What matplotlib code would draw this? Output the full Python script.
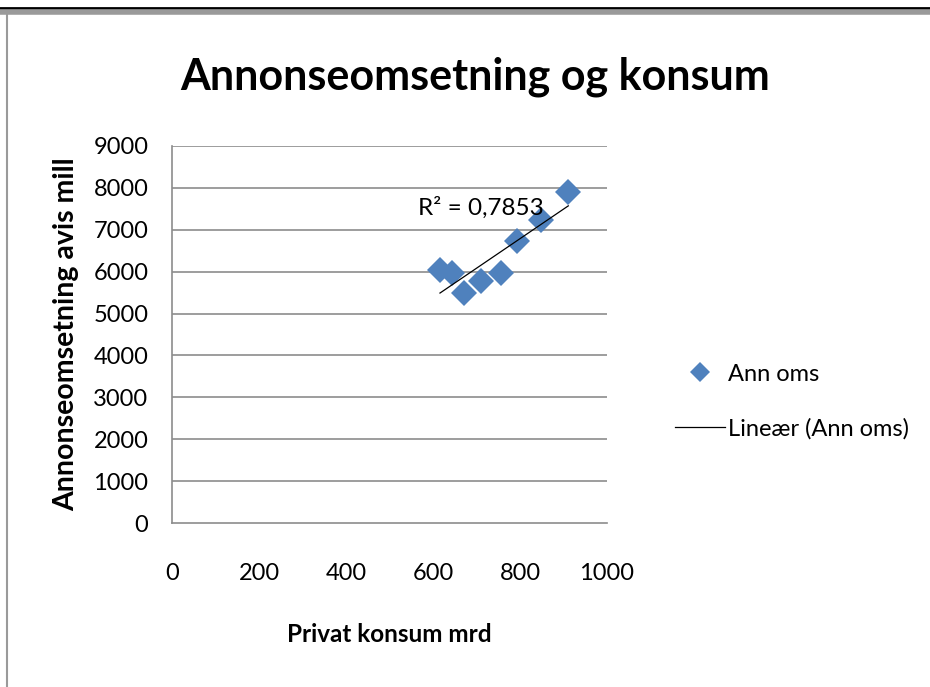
import matplotlib.pyplot as plt
import numpy as np
from matplotlib.lines import Line2D

# privat konsum (mrd) and annonseomsetning avis (mill)
konsum = [616, 643, 671, 710, 756, 794, 848, 911]
ann_oms = [6040, 5960, 5500, 5785, 5975, 6730, 7235, 7895]
r2_text = "R² = 0,7853"

x_ticks = [0, 200, 400, 600, 800, 1000]
y_ticks = [0, 1000, 2000, 3000, 4000, 5000, 6000, 7000, 8000, 9000]

plt.rcParams['font.family'] = ['Lato', 'DejaVu Sans']

fig = plt.figure(figsize=(9.3, 6.87), dpi=100)
ax = fig.add_axes([0.185, 0.2387, 0.4677, 0.5488])

blue = '#4F81BD'
ax.plot(konsum, ann_oms, 'D', color=blue, markersize=13, markeredgewidth=0,
        zorder=3)

# linear trendline
a, b = np.polyfit(konsum, ann_oms, 1)
xs = np.array([min(konsum), max(konsum)])
ax.plot(xs, a * xs + b, color='black', lw=0.9, zorder=4)
ax.text(855, 7520, r2_text, fontsize=17.5, ha='right', va='center', zorder=5)

ax.set_xlim(0, 1000)
ax.set_ylim(0, 9000)
ax.set_xticks(x_ticks)
ax.set_yticks(y_ticks)
ax.tick_params(axis='x', length=0, pad=29, labelsize=17)
ax.tick_params(axis='y', length=0, pad=17, labelsize=17)

for y in y_ticks[1:]:
    ax.axhline(y, color='#8c8c8c', lw=1.2, zorder=1)
for side in ['top', 'right']:
    ax.spines[side].set_visible(False)
ax.spines['left'].set_color('#8c8c8c')
ax.spines['bottom'].set_color('#8c8c8c')
ax.spines['left'].set_linewidth(1.2)
ax.spines['bottom'].set_linewidth(1.2)

ax.set_xlabel('Privat konsum mrd', fontsize=17.5, fontweight='bold', labelpad=28)
ax.set_ylabel('Annonseomsetning avis mill', fontsize=20.5, fontweight='bold',
              labelpad=10)
fig.text(0.511, 0.888, 'Annonseomsetning og konsum', fontsize=31,
         fontweight='bold', ha='center', va='center')

handles = [Line2D([], [], marker='D', color=blue, ls='none', markersize=10,
                  markeredgewidth=0),
           Line2D([], [], color='black', lw=0.9)]
fig.legend(handles, ['Ann oms', 'Lineær (Ann oms)'], loc='center left',
           bbox_to_anchor=(0.703, 0.4156), frameon=False, fontsize=17,
           handlelength=2.1, handletextpad=0.15, labelspacing=1.4)

# frame of the chart area
fig.add_artist(Line2D([0, 1], [0.988, 0.988], color='black', lw=2,
                      transform=fig.transFigure))
fig.add_artist(Line2D([0, 1], [0.982, 0.982], color='#9a9a9a', lw=4,
                      transform=fig.transFigure))
fig.add_artist(Line2D([0.008, 0.008], [0, 0.982], color='#9a9a9a', lw=1.5,
                      transform=fig.transFigure))

fig.savefig('out.png', dpi=100)
